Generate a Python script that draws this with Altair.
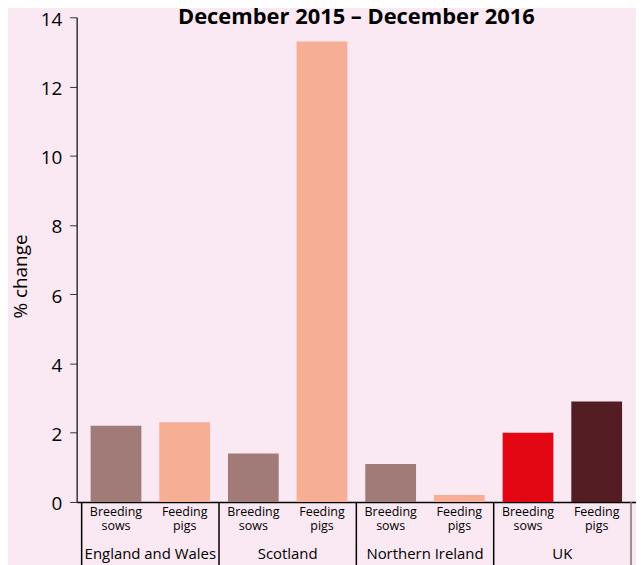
import altair as alt
import pandas as pd

groups = ["England and Wales", "Scotland", "Northern Ireland", "UK"]
subcats = ["Breeding\nsows", "Feeding\npigs"]
values = [2.2, 2.3, 1.4, 13.3, 1.1, 0.2, 2.0, 2.9]
colors = ["#a07b78", "#f6af95", "#a07b78", "#f6af95", "#a07b78", "#f6af95", "#e30613", "#541c23"]
title_text = "December 2015 \u2013 December 2016"
y_ticks = [0, 2, 4, 6, 8, 10, 12, 14]

rows = []
for i, v in enumerate(values):
    rows.append({"idx": i + 0.5, "value": v, "color": colors[i],
                 "sub": subcats[i % 2], "group": groups[i // 2]})
bars_df = pd.DataFrame(rows)
groups_df = pd.DataFrame({"group": groups, "center": [2 * g + 1 for g in range(len(groups))]})
bounds_df = pd.DataFrame({"b": [2 * g for g in range(len(groups) + 1)],
                          "c": ["#000000"] * len(groups) + ["#777777"]})
title_df = pd.DataFrame({"t": [title_text], "x": [4]})

W, H = 562, 487
FONT = "Open Sans"
xscale = alt.Scale(domain=[0, 8], nice=False, zero=False)

bars = alt.Chart(bars_df).mark_bar(size=51).encode(
    x=alt.X("idx:Q", scale=xscale,
            axis=alt.Axis(labels=False, ticks=False, grid=False, title=None,
                          domainColor="#000000", domainWidth=1.5)),
    y=alt.Y("value:Q", scale=alt.Scale(domain=[0, 14], nice=False),
            axis=alt.Axis(values=y_ticks, grid=False, title="% change",
                          titleFontSize=19, titleFont=FONT, titleFontWeight="normal",
                          titleColor="#000000", titleX=-46, titleY=260,
                          labelFontSize=19, labelFont=FONT, labelColor="#000000",
                          labelPadding=8, labelOffset=2, tickSize=7, tickColor="#333333",
                          domainColor="#333333", domainWidth=1.5)),
    color=alt.Color("color:N", scale=None),
)

rules = alt.Chart(bounds_df).mark_rule(strokeWidth=1.5).encode(
    x=alt.X("b:Q", scale=xscale),
    y=alt.value(H),
    y2=alt.value(H + 70),
    color=alt.Color("c:N", scale=None),
)

sub_text = alt.Chart(bars_df).mark_text(
    baseline="top", align="center", fontSize=12.5, font=FONT, lineBreak="\n",
    lineHeight=14.5, color="#000000"
).encode(
    x=alt.X("idx:Q", scale=xscale),
    y=alt.value(H + 4),
    text="sub:N",
)

group_text = alt.Chart(groups_df).mark_text(
    baseline="alphabetic", align="center", fontSize=15, font=FONT, color="#000000"
).encode(
    x=alt.X("center:Q", scale=xscale),
    y=alt.value(H + 57),
    text="group:N",
)

title = alt.Chart(title_df).mark_text(
    baseline="alphabetic", align="center", fontSize=22, font=FONT,
    fontWeight="bold", color="#000000"
).encode(
    x=alt.X("x:Q", scale=xscale),
    y=alt.value(7),
    text="t:N",
)

chart = alt.layer(bars, rules, sub_text, group_text, title).properties(
    width=W, height=H,
    background="#fae8f2",
    padding={"left": 69, "top": 8, "right": 0, "bottom": 62},
    autosize=alt.AutoSizeParams(type="none"),
).configure_view(stroke=None)

chart.save("out.html", embed_options={"renderer": "svg", "actions": False})
